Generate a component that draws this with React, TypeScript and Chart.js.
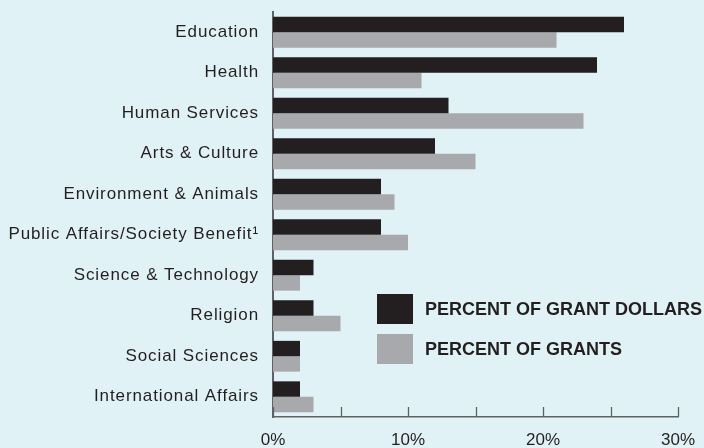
import { useEffect, useRef } from 'react';
import { Chart, registerables } from 'chart.js';

Chart.register(...registerables);

// ---- data ----
const categories = [
  'Education',
  'Health',
  'Human Services',
  'Arts & Culture',
  'Environment & Animals',
  'Public Affairs/Society Benefit¹',
  'Science & Technology',
  'Religion',
  'Social Sciences',
  'International Affairs',
];
const grantDollarsPct = [26, 24, 13, 12, 8, 8, 3, 3, 2, 2];
const grantsPct = [21, 11, 23, 15, 9, 10, 2, 5, 2, 3];
const seriesNames = ['PERCENT OF GRANT DOLLARS', 'PERCENT OF GRANTS'];
const axisMin = 0;
const axisMax = 30;
const tickStep = 5;
const labelStep = 10;

// ---- styles ----
const BG = '#e0f2f5';
const DARK = '#231f20';
const GREY = '#a7a9ac';
const AXIS = '#606163';
const TEXT = '#231f20';
const FONT = "'Liberation Sans', Arial, Helvetica, sans-serif";

const spacingPlugin = {
  id: 'labelSpacing',
  beforeDraw(chart: any) {
    chart.ctx.letterSpacing = '0.9px';
  },
  beforeDatasetsDraw(chart: any) {
    chart.ctx.letterSpacing = '0px';
  },
};

const innerTicksPlugin = {
  id: 'innerTicks',
  afterDraw(chart: any) {
    const x = chart.scales.x;
    const { ctx, chartArea } = chart;
    ctx.save();
    ctx.strokeStyle = AXIS;
    ctx.lineWidth = 1.3;
    x.ticks.forEach((t: any) => {
      const px = Math.round(x.getPixelForValue(t.value)) + 0.5;
      ctx.beginPath();
      ctx.moveTo(px, chartArea.bottom);
      ctx.lineTo(px, chartArea.bottom - 10);
      ctx.stroke();
    });
    ctx.restore();
  },
};

const inlineLegendPlugin = {
  id: 'inlineLegend',
  afterDraw(chart: any) {
    const { ctx, chartArea } = chart;
    const x0 = chartArea.left + 104;
    const y0 = chartArea.top + 282;
    ctx.save();
    ctx.letterSpacing = '0px';
    ctx.font = `bold 18px ${FONT}`;
    ctx.textBaseline = 'middle';
    ctx.textAlign = 'left';
    chart.data.datasets.forEach((ds: any, i: number) => {
      const y = y0 + i * 40;
      ctx.fillStyle = ds.backgroundColor;
      ctx.fillRect(x0, y, 36, 30);
      ctx.fillStyle = TEXT;
      ctx.fillText(ds.label, x0 + 48, y + 16);
    });
    ctx.restore();
  },
};

export default function App() {
  const ref = useRef<HTMLCanvasElement | null>(null);

  useEffect(() => {
    if (!ref.current) return;
    const chart = new Chart(ref.current, {
      type: 'bar',
      data: {
        labels: categories,
        datasets: [
          {
            label: seriesNames[0],
            data: grantDollarsPct,
            backgroundColor: DARK,
            borderWidth: 0,
            categoryPercentage: 0.76,
            barPercentage: 1,
          },
          {
            label: seriesNames[1],
            data: grantsPct,
            backgroundColor: GREY,
            borderWidth: 0,
            categoryPercentage: 0.76,
            barPercentage: 1,
          },
        ],
      },
      options: {
        indexAxis: 'y',
        responsive: false,
        maintainAspectRatio: false,
        animation: false,
        layout: { padding: { top: 12, right: 26, left: 0, bottom: 0 } },
        plugins: {
          legend: { display: false },
          tooltip: { enabled: false },
        },
        scales: {
          x: {
            type: 'linear',
            min: axisMin,
            max: axisMax,
            grid: { display: false, drawTicks: false },
            border: { display: true, color: AXIS, width: 1.5 },
            ticks: {
              stepSize: tickStep,
              autoSkip: false,
              maxRotation: 0,
              padding: 13,
              z: 1,
              color: TEXT,
              font: { family: FONT, size: 17 },
              callback: (v: any) => (Number(v) % labelStep === 0 ? `${v}%` : ''),
            },
            afterFit: (s: any) => {
              s.height = 31;
              s.paddingLeft = 0;
              s.paddingRight = 0;
            },
          },
          y: {
            grid: { display: false, drawTicks: false },
            border: { display: true, color: AXIS, width: 2 },
            ticks: {
              padding: 14,
              autoSkip: false,
              color: TEXT,
              font: { family: FONT, size: 17 },
            },
            afterFit: (s: any) => {
              s.width = 273;
              s.paddingTop = 0;
              s.paddingBottom = 0;
            },
          },
        },
      },
      plugins: [spacingPlugin, innerTicksPlugin, inlineLegendPlugin],
    });
    return () => chart.destroy();
  }, []);

  return (
    <div
      style={{
        position: 'absolute',
        left: 0,
        top: 0,
        width: 704,
        height: 448,
        background: BG,
      }}
    >
      <canvas ref={ref} width={704} height={448} style={{ display: 'block' }} />
    </div>
  );
}
